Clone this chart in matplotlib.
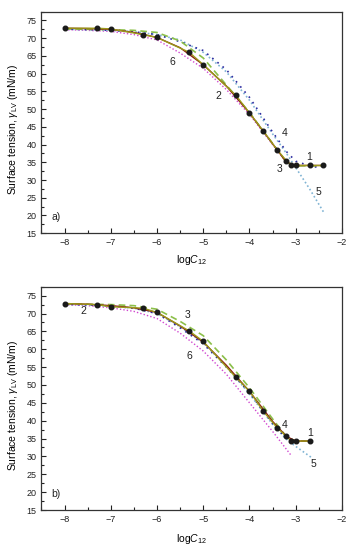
import matplotlib
matplotlib.use("Agg")
import matplotlib.pyplot as plt
from matplotlib.ticker import MultipleLocator

plt.rcParams['font.family'] = ['Liberation Sans', 'DejaVu Sans']
plt.rcParams['mathtext.fontset'] = 'custom'
plt.rcParams['mathtext.rm'] = 'Liberation Sans'
plt.rcParams['mathtext.it'] = 'Liberation Sans:italic'

# ---------------- data: panel a) ----------------
x_exp_a = [-8, -7.3, -7, -6.3, -6, -5.3, -5, -4.3, -4, -3.7, -3.4, -3.2, -3.1, -3.0, -2.7, -2.4]
y_exp_a = [72.8, 72.8, 72.6, 71.0, 70.2, 66.0, 62.5, 54.0, 48.9, 43.8, 38.5, 35.4, 34.1, 34.1, 34.1, 34.1]

x2_a = [-8, -7.5, -7, -6.5, -6, -5.5, -5, -4.5, -4, -3.5, -3.2, -3.0, -2.7, -2.4]
y2_a = [72.8, 72.7, 72.5, 71.6, 70.2, 67.3, 62.5, 56.5, 48.9, 40.2, 35.0, 34.1, 34.1, 34.1]
x3_a = [-8, -7.5, -7, -6.5, -6, -5.5, -5, -4.5, -4, -3.5, -3.2, -3.0, -2.7, -2.4]
y3_a = [72.6, 72.5, 72.4, 72.2, 71.6, 69.2, 64.4, 56.8, 49.0, 40.3, 35.0, 34.0, 34.0, 34.0]
x4_a = [-8, -7.5, -7, -6.5, -6, -5.5, -5, -4.5, -4, -3.5, -3.2, -3.0, -2.7, -2.5]
y4_a = [72.6, 72.4, 72.2, 71.8, 71.0, 69.0, 66.5, 61.1, 53.3, 43.5, 38.0, 35.3, 34.0, 33.5]
x5_a = [-8, -7.5, -7, -6.5, -6, -5.5, -5, -4.5, -4, -3.5, -3.2, -3.0, -2.7, -2.4]
y5_a = [72.5, 72.4, 72.2, 71.8, 71.0, 69.5, 66.0, 60.5, 52.5, 43.0, 37.5, 33.5, 27.5, 21.0]
x6_a = [-8, -7.5, -7, -6.5, -6, -5.5, -5, -4.5, -4, -3.5, -3.2]
y6_a = [72.4, 72.2, 71.9, 71.0, 69.5, 65.8, 61.5, 55.5, 48.5, 40.0, 35.0]

# ---------------- data: panel b) ----------------
x_exp_b = [-8, -7.3, -7, -6.3, -6, -5.3, -5, -4.3, -4, -3.7, -3.4, -3.2, -3.1, -3.0, -2.7]
y_exp_b = [72.8, 72.5, 71.9, 71.5, 70.3, 65.1, 62.2, 52.2, 48.3, 42.6, 38.0, 35.6, 34.3, 34.3, 34.3]

x2_b = [-8, -7.5, -7, -6.5, -6, -5.5, -5, -4.5, -4, -3.5, -3.2, -3.0, -2.7]
y2_b = [72.8, 72.6, 72.2, 71.6, 70.3, 66.5, 62.0, 55.5, 48.2, 39.8, 35.6, 34.3, 34.3]
x3_b = [-8, -7.5, -7, -6.5, -6, -5.5, -5, -4.5, -4, -3.5, -3.2, -3.0, -2.7]
y3_b = [72.7, 72.6, 72.5, 72.2, 71.2, 67.8, 63.8, 57.0, 49.2, 40.5, 35.5, 34.3, 34.3]
x4_b = [-8, -7.5, -7, -6.5, -6, -5.5, -5, -4.5, -4, -3.5, -3.2, -3.0]
y4_b = [72.6, 72.4, 72.1, 71.5, 70.0, 66.0, 61.5, 55.0, 47.8, 39.2, 35.0, 34.0]
x5_b = [-8, -7.5, -7, -6.5, -6, -5.5, -5, -4.5, -4, -3.5, -3.2, -3.0, -2.65]
y5_b = [72.6, 72.4, 72.1, 71.5, 70.0, 66.3, 61.8, 55.2, 47.5, 39.0, 34.8, 32.8, 29.6]
x6_b = [-8, -7.5, -7, -6.5, -6, -5.5, -5, -4.5, -4, -3.5, -3.1]
y6_b = [72.5, 72.2, 71.6, 70.6, 68.6, 64.5, 59.5, 53.0, 45.0, 37.0, 30.3]

labels_a = [("1", -2.71, 36.6), ("2", -4.68, 53.8), ("3", -3.35, 33.0),
            ("4", -3.23, 43.2), ("5", -2.50, 26.7), ("6", -5.67, 63.4)]
labels_b = [("1", -2.68, 36.5), ("2", -7.59, 70.6), ("3", -5.35, 69.7),
            ("4", -3.24, 38.9), ("5", -2.61, 28.0), ("6", -5.29, 58.2)]

c1, c2, c3, c4, c5, c6 = '#9a9a1a', '#8b1a10', '#8cc04a', '#2a2aa0', '#80b4d4', '#d048d0'

fig = plt.figure(figsize=(3.54, 5.5), dpi=100)
ax1 = fig.add_axes([0.117, 0.576, 0.849, 0.403])
ax2 = fig.add_axes([0.117, 0.0727, 0.849, 0.406])


def draw(ax, xe, ye, s2, s3, s4, s5, s6, labs, tag, xlab_y, lab_y):
    ax.plot(*s6, color=c6, lw=1.0, ls=(0, (1, 1.5)), zorder=2)
    ax.plot(*s5, color=c5, lw=1.2, ls=(0, (1, 1.5)), zorder=2)
    ax.plot(*s4, color=c4, lw=1.2, ls=(0, (1, 3)), zorder=2)
    ax.plot(*s3, color=c3, lw=1.2, ls=(0, (4, 2.5)), zorder=3)
    ax.plot(*s2, color=c2, lw=1.0, zorder=3)
    ax.plot(xe, ye, color=c1, lw=1.0, marker='o', ms=3.3, mfc='#1a1a1a', mec='#1a1a1a', zorder=4)
    for t, x, y in labs:
        ax.text(x, y, t, fontsize=7.5, ha='center', va='center', color='#222222')
    ax.text(-8.19, 19.6, tag, fontsize=7.5, ha='center', va='center', color='#222222')
    ax.set_xlim(-8.5, -2)
    ax.set_ylim(15, 77.5)
    ax.xaxis.set_major_locator(MultipleLocator(1))
    ax.xaxis.set_minor_locator(MultipleLocator(0.5))
    ax.yaxis.set_major_locator(MultipleLocator(5))
    ax.yaxis.set_minor_locator(MultipleLocator(2.5))
    ax.tick_params(which='both', direction='in', labelsize=6.5, colors='#222222')
    ax.tick_params(which='major', length=3.5, width=0.8)
    ax.tick_params(which='minor', length=2, width=0.8)
    for sp in ax.spines.values():
        sp.set_color('#333333')
        sp.set_linewidth(0.9)
    ax.set_xlabel('log$\\mathit{C}_{\\mathrm{12}}$', fontsize=7.5)
    ax.xaxis.set_label_coords(0.5, xlab_y)
    ax.set_ylabel('Surface tension, $\\gamma_{\\mathrm{LV}}$ (mN/m)', fontsize=7.5)
    ax.yaxis.set_label_coords(-0.07, lab_y)


draw(ax1, x_exp_a, y_exp_a, (x2_a, y2_a), (x3_a, y3_a), (x4_a, y4_a), (x5_a, y5_a),
     (x6_a, y6_a), labels_a, 'a)', -0.09, 0.47)
draw(ax2, x_exp_b, y_exp_b, (x2_b, y2_b), (x3_b, y3_b), (x4_b, y4_b), (x5_b, y5_b),
     (x6_b, y6_b), labels_b, 'b)', -0.097, 0.47)

fig.savefig('out.png', dpi=100)
